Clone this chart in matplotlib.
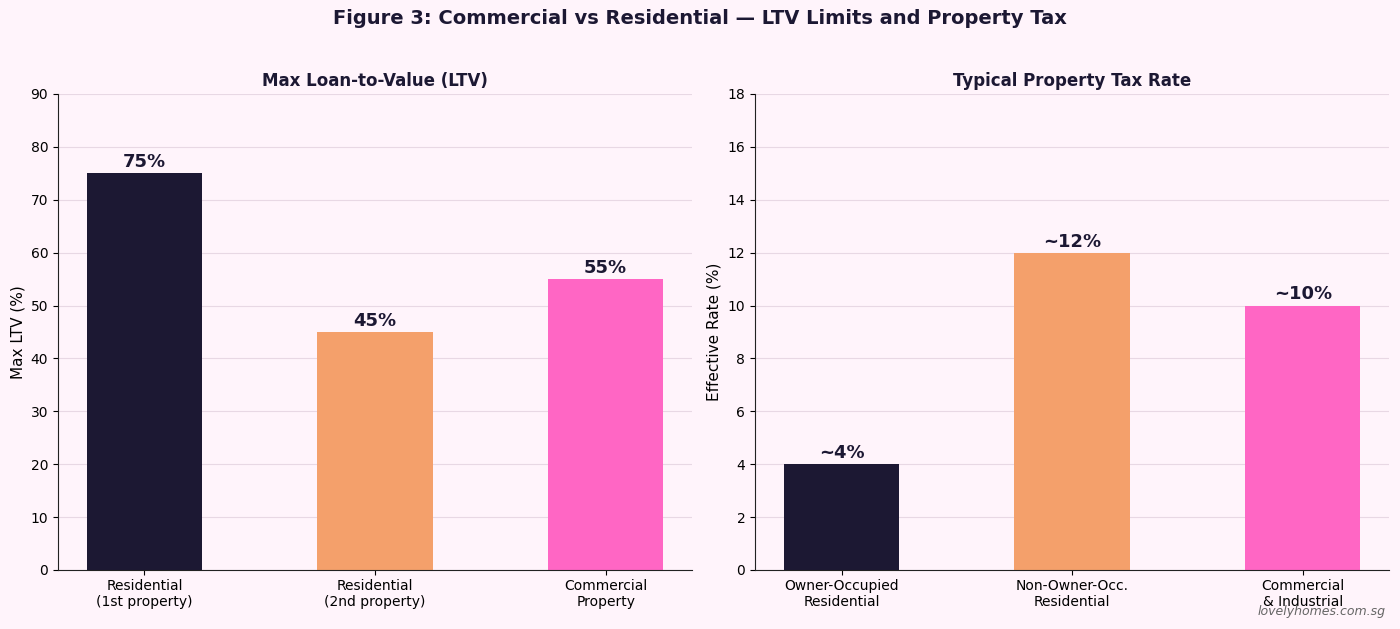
import matplotlib
matplotlib.use('Agg')
import matplotlib.pyplot as plt
import numpy as np

ltv_labels = ['Residential\n(1st property)', 'Residential\n(2nd property)', 'Commercial\nProperty']
ltv_values = [75, 45, 55]
tax_labels = ['Owner-Occupied\nResidential', 'Non-Owner-Occ.\nResidential', 'Commercial\n& Industrial']
tax_values = [4, 12, 10]
tax_text = ['~4%', '~12%', '~10%']

BG = '#FFF4FB'
DARK = '#1C1833'
colors = [DARK, '#F4A06B', '#FF66C4']

fig = plt.figure(figsize=(14, 6.29), dpi=100, facecolor=BG)
ax1 = fig.add_axes([0.0414, 0.0938, 0.453, 0.7568])
ax2 = fig.add_axes([0.5393, 0.0938, 0.453, 0.7568])


def style(ax):
    ax.set_facecolor(BG)
    ax.spines['top'].set_visible(False)
    ax.spines['right'].set_visible(False)
    ax.spines['left'].set_color('#222222')
    ax.spines['bottom'].set_color('#222222')
    ax.yaxis.grid(True, color='#E8D8E4', linewidth=0.8)
    ax.set_axisbelow(True)
    ax.tick_params(labelsize=10)
    ax.tick_params(axis='x', pad=3)


x = np.arange(len(ltv_values))
ax1.bar(x, ltv_values, width=0.5, color=colors)
for xi, v in zip(x, ltv_values):
    ax1.text(xi, v + 0.4, f'{v}%', ha='center', va='bottom', fontsize=13,
             fontweight='bold', color=DARK)
ax1.set_xticks(x)
ax1.set_xticklabels(ltv_labels)
ax1.set_ylim(0, 90)
ax1.set_yticks(range(0, 91, 10))
ax1.set_ylabel('Max LTV (%)', fontsize=11)
ax1.set_title('Max Loan-to-Value (LTV)', fontsize=12, fontweight='bold', color=DARK, pad=6)
style(ax1)

x2 = np.arange(len(tax_values))
ax2.bar(x2, tax_values, width=0.5, color=colors)
for xi, v, t in zip(x2, tax_values, tax_text):
    ax2.text(xi, v + 0.08, t, ha='center', va='bottom', fontsize=13,
             fontweight='bold', color=DARK)
ax2.set_xticks(x2)
ax2.set_xticklabels(tax_labels)
ax2.set_ylim(0, 18)
ax2.set_yticks(range(0, 19, 2))
ax2.set_ylabel('Effective Rate (%)', fontsize=11)
ax2.set_title('Typical Property Tax Rate', fontsize=12, fontweight='bold', color=DARK, pad=6)
style(ax2)

fig.suptitle('Figure 3: Commercial vs Residential \u2014 LTV Limits and Property Tax',
             fontsize=14, fontweight='bold', color=DARK, y=0.985)
fig.text(0.99, 0.017, 'lovelyhomes.com.sg', ha='right', va='bottom', fontsize=9,
         style='italic', color='#666666')

fig.savefig('out.png', facecolor=BG)
